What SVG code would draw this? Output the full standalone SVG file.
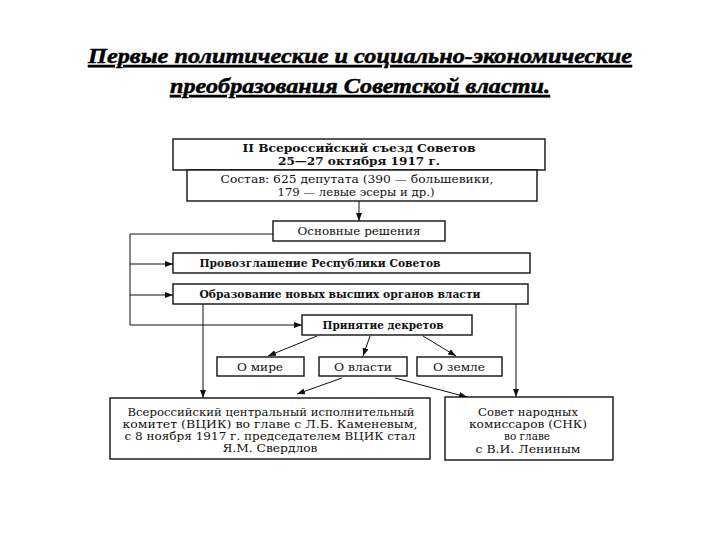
<svg xmlns="http://www.w3.org/2000/svg" width="720" height="540" viewBox="0 0 720 540">
<style>
.title{font-family:"Liberation Serif","DejaVu Serif",serif;font-weight:bold;font-style:italic;font-size:22px;fill:#000;stroke:#000;stroke-width:0.5;text-decoration:underline;}
.box{fill:#fff;stroke:#111;stroke-width:1.4;}
.t{font-family:"DejaVu Serif","Liberation Serif",serif;font-size:10.5px;fill:#111;text-anchor:middle;}
.b{font-weight:bold;}
.ln{fill:none;stroke:#111;stroke-width:1;}
</style>
<defs>
<marker id="ah" viewBox="0 0 8 6" refX="8" refY="3" markerWidth="8" markerHeight="6" markerUnits="userSpaceOnUse" orient="auto">
<path d="M0,0 L8,3 L0,6 z" fill="#111"/>
</marker>
</defs>
<rect width="720" height="540" fill="#fff"/>
<g id="title">
<text class="title" x="360" y="63" text-anchor="middle" textLength="544" lengthAdjust="spacingAndGlyphs">Первые политические и социально-экономические</text>
<text class="title" x="360" y="93" text-anchor="middle" textLength="380" lengthAdjust="spacingAndGlyphs">преобразования Советской власти.</text>
</g>
<g id="connectors">
<line class="ln" x1="359" y1="201" x2="359" y2="221" marker-end="url(#ah)"/>
<polyline class="ln" points="273,234 130,234 130,325"/>
<line class="ln" x1="130" y1="264" x2="173" y2="264" marker-end="url(#ah)"/>
<line class="ln" x1="130" y1="295" x2="173" y2="295" marker-end="url(#ah)"/>
<line class="ln" x1="130" y1="325" x2="302" y2="325" marker-end="url(#ah)"/>
<line class="ln" x1="203" y1="304" x2="203" y2="398" marker-end="url(#ah)"/>
<line class="ln" x1="516" y1="304" x2="516" y2="397" marker-end="url(#ah)"/>
<line class="ln" x1="317" y1="336" x2="268" y2="356" marker-end="url(#ah)"/>
<line class="ln" x1="370" y1="336" x2="363" y2="356" marker-end="url(#ah)"/>
<line class="ln" x1="423" y1="336" x2="456" y2="356" marker-end="url(#ah)"/>
<line class="ln" x1="342" y1="378" x2="297" y2="394" marker-end="url(#ah)"/>
<line class="ln" x1="395" y1="378" x2="467" y2="397" marker-end="url(#ah)"/>
<line class="ln" x1="381" y1="403" x2="372" y2="398" marker-end="url(#ah)"/>
</g>
<g id="congress">
<rect class="box" x="173" y="139" width="372" height="31"/>
<text class="t b" x="359" y="152" textLength="233" lengthAdjust="spacingAndGlyphs">II Всероссийский съезд Советов</text>
<text class="t b" x="359" y="165" textLength="162" lengthAdjust="spacingAndGlyphs">25—27 октября 1917 г.</text>
</g>
<g id="composition">
<rect class="box" x="187" y="170" width="350" height="31"/>
<text class="t" x="357" y="183" textLength="273" lengthAdjust="spacingAndGlyphs">Состав: 625 депутата (390 — большевики,</text>
<text class="t" x="356" y="196" textLength="157" lengthAdjust="spacingAndGlyphs">179 — левые эсеры и др.)</text>
</g>
<g id="decisions">
<rect class="box" x="273" y="221" width="172" height="20"/>
<text class="t" x="359" y="235" textLength="123" lengthAdjust="spacingAndGlyphs">Основные решения</text>
</g>
<g id="republic">
<rect class="box" x="173" y="253" width="357" height="20"/>
<text class="t b" x="320" y="267" textLength="241" lengthAdjust="spacingAndGlyphs">Провозглашение Республики Советов</text>
</g>
<g id="organs">
<rect class="box" x="173" y="284" width="355" height="20"/>
<text class="t b" x="340" y="298" textLength="281" lengthAdjust="spacingAndGlyphs">Образование новых высших органов власти</text>
</g>
<g id="decrees">
<rect class="box" x="302" y="315" width="170" height="20"/>
<text class="t b" x="383" y="329" textLength="121" lengthAdjust="spacingAndGlyphs">Принятие декретов</text>
</g>
<g id="peace">
<rect class="box" x="217" y="357" width="87" height="19"/>
<text class="t" x="260" y="371" textLength="46" lengthAdjust="spacingAndGlyphs">О мире</text>
</g>
<g id="power">
<rect class="box" x="319" y="357" width="88" height="19"/>
<text class="t" x="363" y="371" textLength="58" lengthAdjust="spacingAndGlyphs">О власти</text>
</g>
<g id="land">
<rect class="box" x="417" y="357" width="85" height="19"/>
<text class="t" x="459" y="371" textLength="52" lengthAdjust="spacingAndGlyphs">О земле</text>
</g>
<g id="vtsik">
<rect class="box" x="110" y="398" width="320" height="61"/>
<text class="t" x="271" y="416" textLength="287" lengthAdjust="spacingAndGlyphs">Всероссийский центральный исполнительный</text>
<text class="t" x="270" y="428" textLength="295" lengthAdjust="spacingAndGlyphs">комитет (ВЦИК) во главе с Л.Б. Каменевым,</text>
<text class="t" x="270" y="440" textLength="291" lengthAdjust="spacingAndGlyphs">с 8 ноября 1917 г. председателем ВЦИК стал</text>
<text class="t" x="270" y="452" textLength="95" lengthAdjust="spacingAndGlyphs">Я.М. Свердлов</text>
</g>
<g id="snk">
<rect class="box" x="445" y="397" width="168" height="63"/>
<text class="t" x="528" y="416" textLength="100" lengthAdjust="spacingAndGlyphs">Совет народных</text>
<text class="t" x="528" y="428" textLength="118" lengthAdjust="spacingAndGlyphs">комиссаров (СНК)</text>
<text class="t" x="527" y="440" textLength="46" lengthAdjust="spacingAndGlyphs">во главе</text>
<text class="t" x="528" y="453" textLength="105" lengthAdjust="spacingAndGlyphs">с В.И. Лениным</text>
</g>
</svg>
